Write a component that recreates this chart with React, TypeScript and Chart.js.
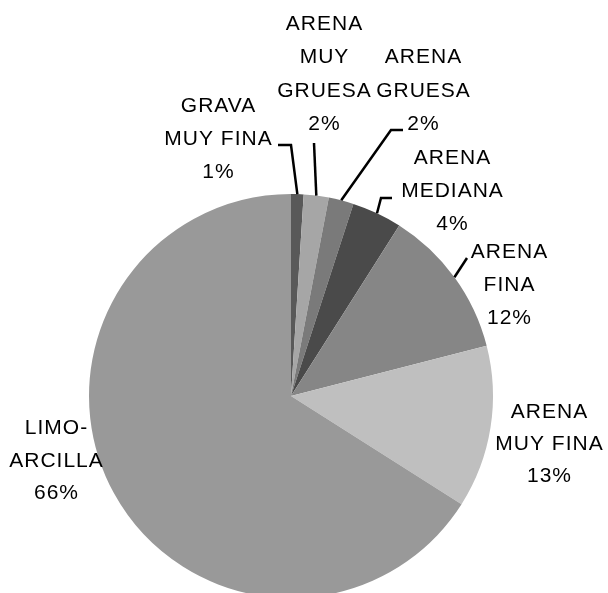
import React, { useEffect, useRef } from "react";
import { Chart, registerables } from "chart.js";

Chart.register(...registerables);

const categories = [
  "GRAVA MUY FINA",
  "ARENA MUY GRUESA",
  "ARENA GRUESA",
  "ARENA MEDIANA",
  "ARENA FINA",
  "ARENA MUY FINA",
  "LIMO-ARCILLA",
];
const percentages = [1, 2, 2, 4, 12, 13, 66];
const labelLines = [
  ["GRAVA", "MUY FINA"],
  ["ARENA", "MUY", "GRUESA"],
  ["ARENA", "GRUESA"],
  ["ARENA", "MEDIANA"],
  ["ARENA", "FINA"],
  ["ARENA", "MUY FINA"],
  ["LIMO-", "ARCILLA"],
];
const sliceColors = ["#595959", "#a6a6a6", "#7a7a7a", "#4a4a4a", "#868686", "#bfbfbf", "#999999"];

// label layout: text centre x, first baseline y, line gap, leader-line points (label side)
const labelLayout = [
  { x: 218, y: 112, gap: 33, leader: [[278, 145], [291, 145]] },
  { x: 324, y: 30, gap: 33.3, leader: [[314, 143]] },
  { x: 423, y: 63, gap: 33.5, leader: [[403, 130], [391, 130]] },
  { x: 452, y: 164, gap: 33, leader: [[392, 198], [381, 198]] },
  { x: 509, y: 258, gap: 33, leader: [[467, 258]] },
  { x: 549, y: 418, gap: 32, leader: [] as number[][] },
  { x: 56, y: 434, gap: 32.5, leader: [] as number[][] },
];

const labelPlugin = {
  id: "pieLabels",
  afterDraw(chart: any) {
    const ctx = chart.ctx as CanvasRenderingContext2D;
    const meta = chart.getDatasetMeta(0);
    ctx.save();
    ctx.fillStyle = "#000";
    ctx.strokeStyle = "#000";
    ctx.lineWidth = 2.5;
    ctx.lineJoin = "miter";
    ctx.font = "21px 'Liberation Sans', Arial, sans-serif";
    (ctx as any).letterSpacing = "1px";
    ctx.textAlign = "center";
    ctx.textBaseline = "alphabetic";
    meta.data.forEach((arc: any, i: number) => {
      const L = labelLayout[i];
      const lines = [...labelLines[i], percentages[i] + "%"];
      lines.forEach((t, j) => ctx.fillText(t, L.x + 0.5, L.y + j * L.gap));
      if (L.leader.length) {
        const p = arc.getProps(["x", "y", "startAngle", "endAngle", "outerRadius"], true);
        const mid = (p.startAngle + p.endAngle) / 2;
        const ex = p.x + Math.cos(mid) * p.outerRadius;
        const ey = p.y + Math.sin(mid) * p.outerRadius;
        ctx.beginPath();
        ctx.moveTo(L.leader[0][0], L.leader[0][1]);
        for (let k = 1; k < L.leader.length; k++) ctx.lineTo(L.leader[k][0], L.leader[k][1]);
        ctx.lineTo(ex, ey);
        ctx.stroke();
      }
    });
    ctx.restore();
  },
};

export default function App() {
  const ref = useRef<HTMLCanvasElement | null>(null);
  useEffect(() => {
    if (!ref.current) return;
    const chart = new Chart(ref.current, {
      type: "pie",
      data: {
        labels: categories,
        datasets: [
          {
            data: percentages,
            backgroundColor: sliceColors,
            borderWidth: 0,
            hoverOffset: 0,
            offset: 0,
          },
        ],
      },
      options: {
        responsive: false,
        animation: false,
        layout: { padding: { left: 89, right: 115, top: 194, bottom: 2 } },
        plugins: {
          legend: { display: false },
          tooltip: { enabled: false },
        },
        events: [],
      },
      plugins: [labelPlugin],
    });
    return () => chart.destroy();
  }, []);
  return (
    <div
      style={{
        position: "fixed",
        left: 0,
        top: 0,
        width: 608,
        height: 593,
        overflow: "hidden",
        background: "#fff",
      }}
    >
      <canvas ref={ref} width={608} height={600} style={{ display: "block", width: 608, height: 600 }} />
    </div>
  );
}
